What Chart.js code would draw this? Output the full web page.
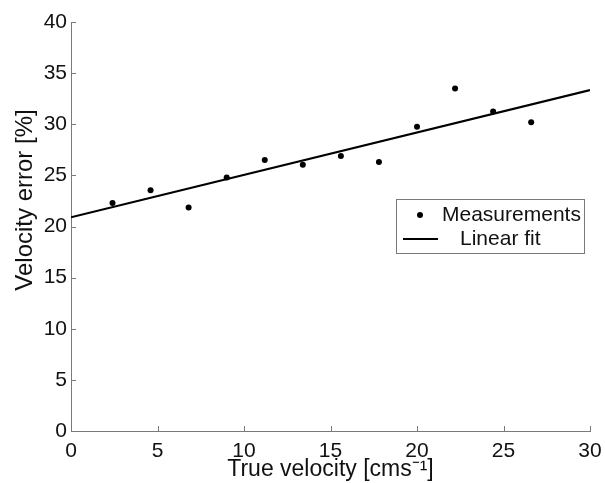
<!DOCTYPE html>
<html>
<head>
<meta charset="utf-8">
<script src="https://cdn.jsdelivr.net/npm/chart.js@4.4.1/dist/chart.umd.min.js"></script>
<style>
  html, body { margin: 0; padding: 0; background: #fff; }
  #wrap { width: 605px; height: 483px; position: relative; }
</style>
</head>
<body>
<div id="wrap"><canvas id="velChart"></canvas></div>
<script>
// --- data ---
const trueVelocity = [2.4, 4.6, 6.8, 9.0, 11.2, 13.4, 15.6, 17.8, 20.0, 22.2, 24.4, 26.6];
const velocityError = [22.3, 23.55, 21.85, 24.8, 26.5, 26.05, 26.9, 26.3, 29.75, 33.5, 31.25, 30.2];
const fitX = [0, 30];
const fitY = [20.9, 33.35];
const xTicks = [0, 5, 10, 15, 20, 25, 30];
const yTicks = [0, 5, 10, 15, 20, 25, 30, 35, 40];

const axisGray = '#7a7a7a';
const textColor = '#111';
const fontFamily = '"Liberation Sans", Arial, Helvetica, sans-serif';

// small inward tick marks (like the matlab look)
const innerTicks = {
    id: 'innerTicks',
    afterDraw(chart) {
        const { ctx, chartArea, scales } = chart;
        ctx.save();
        ctx.strokeStyle = axisGray;
        ctx.lineWidth = 1;
        xTicks.forEach(v => {
            const px = Math.round(scales.x.getPixelForValue(v)) + 0.5;
            ctx.beginPath();
            ctx.moveTo(px, chartArea.bottom);
            ctx.lineTo(px, chartArea.bottom - 5);
            ctx.stroke();
        });
        yTicks.forEach(v => {
            const py = Math.round(scales.y.getPixelForValue(v)) + 0.5;
            ctx.beginPath();
            ctx.moveTo(chartArea.left, py);
            ctx.lineTo(chartArea.left + 5, py);
            ctx.stroke();
        });
        ctx.restore();
    }
};

// y axis title, sits a bit above the middle in the original
const yTitle = {
    id: 'yTitle',
    afterDraw(chart) {
        const ctx = chart.ctx;
        ctx.save();
        ctx.translate(25, 200);
        ctx.rotate(-Math.PI / 2);
        ctx.font = '24px ' + fontFamily;
        ctx.fillStyle = textColor;
        ctx.textAlign = 'center';
        ctx.textBaseline = 'middle';
        ctx.fillText('Velocity error [%]', 0, 0);
        ctx.restore();
    }
};

// boxed legend inside the plot
const boxLegend = {
    id: 'boxLegend',
    afterDraw(chart) {
        const ctx = chart.ctx;
        const bx = 396, by = 199, bw = 188, bh = 54;
        ctx.save();
        ctx.fillStyle = '#fff';
        ctx.fillRect(bx, by, bw, bh);
        ctx.strokeStyle = axisGray;
        ctx.lineWidth = 1;
        ctx.strokeRect(bx + 0.5, by + 0.5, bw, bh);

        // dot
        ctx.fillStyle = '#000';
        ctx.beginPath();
        ctx.arc(420, 215, 3, 0, Math.PI * 2);
        ctx.fill();
        // line
        ctx.strokeStyle = '#000';
        ctx.lineWidth = 2.2;
        ctx.beginPath();
        ctx.moveTo(403, 239);
        ctx.lineTo(438, 239);
        ctx.stroke();

        ctx.font = '21px ' + fontFamily;
        ctx.fillStyle = textColor;
        ctx.textAlign = 'left';
        ctx.textBaseline = 'middle';
        ctx.fillText(chart.data.datasets[0].label, 442, 215);
        ctx.fillText(chart.data.datasets[1].label, 460, 239);
        ctx.restore();
    }
};

const chartData = {
    datasets: [
        {
            label: 'Measurements',
            data: trueVelocity.map((x, i) => ({ x: x, y: velocityError[i] })),
            showLine: false,
            pointRadius: 3,
            pointBackgroundColor: '#000',
            pointBorderWidth: 0,
            borderColor: '#000'
        },
        {
            label: 'Linear fit',
            data: fitX.map((x, i) => ({ x: x, y: fitY[i] })),
            showLine: true,
            pointRadius: 0,
            borderColor: '#000',
            borderWidth: 2.2
        }
    ]
};

new Chart(document.getElementById('velChart'), {
    type: 'scatter',
    data: chartData,
    options: {
        responsive: true,
        maintainAspectRatio: false,
        animation: false,
        layout: { padding: { top: 22, right: 15, left: 0, bottom: 0 } },
        plugins: {
            legend: { display: false },
            tooltip: { enabled: false }
        },
        scales: {
            x: {
                type: 'linear',
                min: 0, max: 30,
                afterFit: s => {
                    s.height = 52;
                    // don't let the "30" label push the plot in
                    s.paddingLeft = 0;
                    s.paddingRight = 0;
                },
                afterBuildTicks: s => { s.ticks = xTicks.map(v => ({ value: v })); },
                grid: { display: false, drawTicks: false },
                border: { display: true, color: axisGray, width: 1 },
                ticks: { color: textColor, padding: 8, font: { size: 21, family: fontFamily } },
                title: {
                    display: true,
                    text: 'True velocity [cms⁻¹]',
                    color: textColor,
                    font: { size: 23, family: fontFamily },
                    padding: { top: 0, bottom: 0 }
                }
            },
            y: {
                type: 'linear',
                min: 0, max: 40,
                afterFit: s => {
                    s.width = 71;
                    s.paddingTop = 0;
                    s.paddingBottom = 0;
                },
                afterBuildTicks: s => { s.ticks = yTicks.map(v => ({ value: v })); },
                grid: { display: false, drawTicks: false },
                border: { display: true, color: axisGray, width: 1 },
                ticks: { color: textColor, padding: 4, font: { size: 21, family: fontFamily } }
            }
        }
    },
    plugins: [innerTicks, yTitle, boxLegend]
});
</script>
</body>
</html>
